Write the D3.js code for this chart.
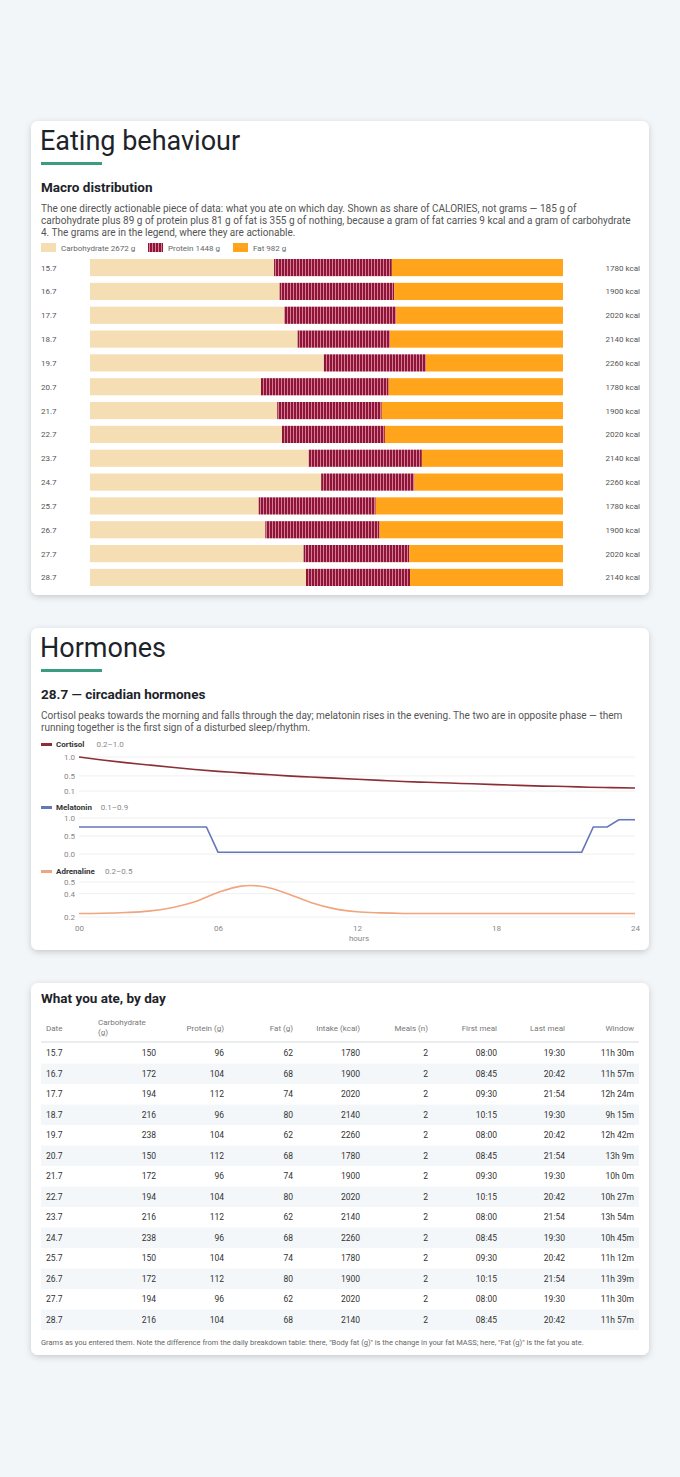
<!DOCTYPE html>
<html><head><meta charset="utf-8">
<script src="https://cdn.jsdelivr.net/npm/d3@7"></script>
<style>body{margin:0;background:#f3f6f9;font-family:Roboto,sans-serif}</style></head>
<body><svg id="c" width="680" height="1477"></svg>
<script>
const dates=["15.7","16.7","17.7","18.7","19.7","20.7","21.7","22.7","23.7","24.7","25.7","26.7","27.7","28.7"];
const carb=[150,172,194,216,238,150,172,194,216,238,150,172,194,216];
const protein=[96,104,112,96,104,112,96,104,112,96,104,112,96,104];
const fat=[62,68,74,80,62,68,74,80,62,68,74,80,62,68];
const kcal=[1780,1900,2020,2140,2260,1780,1900,2020,2140,2260,1780,1900,2020,2140];
const meals=[2,2,2,2,2,2,2,2,2,2,2,2,2,2];
const firstMeal=["08:00","08:45","09:30","10:15","08:00","08:45","09:30","10:15","08:00","08:45","09:30","10:15","08:00","08:45"];
const lastMeal=["19:30","20:42","21:54","19:30","20:42","21:54","19:30","20:42","21:54","19:30","20:42","21:54","19:30","20:42"];
const windowLen=["11h 30m","11h 57m","12h 24m","9h 15m","12h 42m","13h 9m","10h 0m","10h 27m","13h 54m","10h 45m","11h 12m","11h 39m","11h 30m","11h 57m"];
const hours=[0,1,2,3,4,5,6,7,8,9,10,11,12,13,14,15,16,17,18,19,20,21,22,23,24];
const cortisol=[1.0,0.92,0.85,0.79,0.73,0.67,0.62,0.58,0.54,0.50,0.47,0.44,0.41,0.38,0.35,0.33,0.31,0.29,0.27,0.25,0.23,0.22,0.20,0.19,0.18];
const melatoninH=[0,5.5,6,21.7,22.2,22.8,23.3,24];
const melatonin=[0.75,0.75,0.05,0.05,0.75,0.75,0.95,0.95];
const adrenaline=[0.23,0.232,0.238,0.25,0.28,0.33,0.41,0.465,0.46,0.40,0.325,0.272,0.245,0.235,0.23,0.23,0.23,0.23,0.23,0.23,0.23,0.23,0.23,0.23,0.23];
const hourTicks=[0,6,12,18,24];

const svg=d3.select("#c");
const defs=svg.append("defs");
const f=defs.append("filter").attr("id","sh").attr("x","-10%").attr("y","-10%").attr("width","120%").attr("height","130%");
f.append("feDropShadow").attr("dx",0).attr("dy",2).attr("stdDeviation",3).attr("flood-color","#000").attr("flood-opacity",0.18);
const pat=defs.append("pattern").attr("id","pp").attr("patternUnits","userSpaceOnUse").attr("width",3).attr("height",10);
pat.append("rect").attr("width",3).attr("height",10).attr("fill","#8c1538");
pat.append("rect").attr("x",2).attr("width",1).attr("height",10).attr("fill","#d77a93");

function card(y,h){svg.append("rect").attr("x",31).attr("y",y).attr("width",618).attr("height",h).attr("rx",7).attr("fill","#fff").attr("filter","url(#sh)");}
function txt(x,y,s,o={}){const t=svg.append("text").attr("x",x).attr("y",y).text(s).attr("font-size",o.size||11).attr("fill",o.fill||"#222").attr("font-weight",o.w||400).attr("text-anchor",o.a||"start");return t;}

// Card 1
card(121,474);
txt(40,150,"Eating behaviour",{size:27,fill:"#1d2329"});
svg.append("rect").attr("x",41).attr("y",162).attr("width",61).attr("height",3).attr("fill","#3a9c80");
txt(41,192,"Macro distribution",{size:13.5,w:700,fill:"#1d2329"});
["The one directly actionable piece of data: what you ate on which day. Shown as share of CALORIES, not grams — 185 g of",
"carbohydrate plus 89 g of protein plus 81 g of fat is 355 g of nothing, because a gram of fat carries 9 kcal and a gram of carbohydrate",
"4. The grams are in the legend, where they are actionable."].forEach((l,i)=>txt(41,212+i*12,l,{size:10,fill:"#555"}));
const leg=[["Carbohydrate "+d3.sum(carb)+" g","#f5deb3",41],["Protein "+d3.sum(protein)+" g","url(#pp)",148],["Fat "+d3.sum(fat)+" g","#ffa41b",233]];
leg.forEach(([t,c,x])=>{svg.append("rect").attr("x",x).attr("y",243).attr("width",15).attr("height",9).attr("fill",c);txt(x+20,251,t,{size:8,fill:"#666"});});
const yB=d3.scaleBand().domain(dates).range([259,586]).paddingInner(0.28);
const xB=d3.scaleLinear().domain([0,1]).range([90,563]);
dates.forEach((d,i)=>{
  const c=carb[i]*4,p=protein[i]*4,fa=fat[i]*9,t=c+p+fa;
  const segs=[[0,c/t,"#f5deb3"],[c/t,(c+p)/t,"url(#pp)"],[(c+p)/t,1,"#ffa41b"]];
  segs.forEach(([a,b,col])=>svg.append("rect").attr("x",xB(a)).attr("y",yB(d)).attr("width",xB(b)-xB(a)).attr("height",yB.bandwidth()).attr("fill",col));
  txt(41,yB(d)+yB.bandwidth()/2+3,d,{size:8,fill:"#555"});
  txt(640,yB(d)+yB.bandwidth()/2+3,kcal[i]+" kcal",{size:8,fill:"#555",a:"end"});
});

// Card 2
card(628,322);
txt(40,657,"Hormones",{size:27,fill:"#1d2329"});
svg.append("rect").attr("x",41).attr("y",669).attr("width",61).attr("height",3).attr("fill","#3a9c80");
txt(41,699,"28.7 — circadian hormones",{size:13.5,w:700,fill:"#1d2329"});
["Cortisol peaks towards the morning and falls through the day; melatonin rises in the evening. The two are in opposite phase — them",
"running together is the first sign of a disturbed sleep/rhythm."].forEach((l,i)=>txt(41,719+i*12,l,{size:10,fill:"#555"}));
const xH=d3.scaleLinear().domain([0,24]).range([79,635]);
const panels=[
 {name:"Cortisol",rng:"0.2–1.0",col:"#8b2e36",ly:747,dom:[0.1,1.0],r:[791,757],ticks:[1.0,0.5,0.1],xs:hours,ys:cortisol,curve:d3.curveMonotoneX},
 {name:"Melatonin",rng:"0.1–0.9",col:"#6477b9",ly:810,dom:[0,1],r:[854,818],ticks:[1.0,0.5,0.0],xs:melatoninH,ys:melatonin,curve:d3.curveLinear},
 {name:"Adrenaline",rng:"0.2–0.5",col:"#f0a57e",ly:874,dom:[0.2,0.5],r:[917,882],ticks:[0.5,0.4,0.2],xs:hours,ys:adrenaline,curve:d3.curveCatmullRom}];
panels.forEach(p=>{
  svg.append("rect").attr("x",41).attr("y",p.ly-4).attr("width",11).attr("height",3).attr("fill",p.col);
  txt(56,p.ly,p.name,{size:8,w:700,fill:"#333"});
  txt(56+p.name.length*4.3+6,p.ly,p.rng,{size:8,fill:"#888"});
  const y=d3.scaleLinear().domain(p.dom).range(p.r);
  p.ticks.forEach(v=>{
    svg.append("line").attr("x1",79).attr("x2",635).attr("y1",y(v)).attr("y2",y(v)).attr("stroke","#f0f0f0");
    txt(75,y(v)+3,d3.format(".1f")(v),{size:8,fill:"#888",a:"end"});
  });
  svg.append("path").datum(p.xs.map((h,i)=>[h,p.ys[i]])).attr("fill","none").attr("stroke",p.col).attr("stroke-width",1.6)
    .attr("d",d3.line().x(d=>xH(d[0])).y(d=>y(d[1])).curve(p.curve));
});
const ax=svg.append("g").attr("transform","translate(0,922)").call(d3.axisBottom(xH).tickValues(hourTicks).tickFormat(d3.format("02d")).tickSize(0));
ax.select(".domain").remove();
ax.selectAll("text").attr("font-size",8).attr("fill","#888").attr("font-family","Roboto");
txt(359,941,"hours",{size:8,fill:"#888",a:"middle"});

// Card 3
card(983,372);
txt(41,1003,"What you ate, by day",{size:13.5,w:700,fill:"#1d2329"});
const cols=[["Date",46,"start",dates],["Carbohydrate\n(g)",156,"end",carb],["Protein (g)",224,"end",protein],["Fat (g)",293,"end",fat],["Intake (kcal)",360,"end",kcal],["Meals (n)",428,"end",meals],["First meal",497,"end",firstMeal],["Last meal",565,"end",lastMeal],["Window",634,"end",windowLen]];
const yT=d3.scaleBand().domain(dates).range([1043,1330]);
dates.forEach((d,i)=>{ if(i%2==1) svg.append("rect").attr("x",41).attr("y",yT(d)).attr("width",598).attr("height",yT.bandwidth()).attr("fill","#f4f7f9"); });
svg.append("line").attr("x1",41).attr("x2",639).attr("y1",1042).attr("y2",1042).attr("stroke","#e3e7ea").attr("stroke-width",1.5);
cols.forEach(([h,x,a,vals])=>{
  if(h.includes("\n")){const [l1,l2]=h.split("\n");txt(98,1025,l1,{size:8,fill:"#777"});txt(98,1035,l2,{size:8,fill:"#777"});}
  else txt(x,1031,h,{size:8,fill:"#777",a:a});
  vals.forEach((v,i)=>txt(x,yT(dates[i])+yT.bandwidth()/2+3,v,{size:8.5,fill:"#333",a:a}));
});
txt(41,1345,"Grams as you entered them. Note the difference from the daily breakdown table: there, \"Body fat (g)\" is the change in your fat MASS; here, \"Fat (g)\" is the fat you ate.",{size:7.5,fill:"#666"});
</script></body></html>
